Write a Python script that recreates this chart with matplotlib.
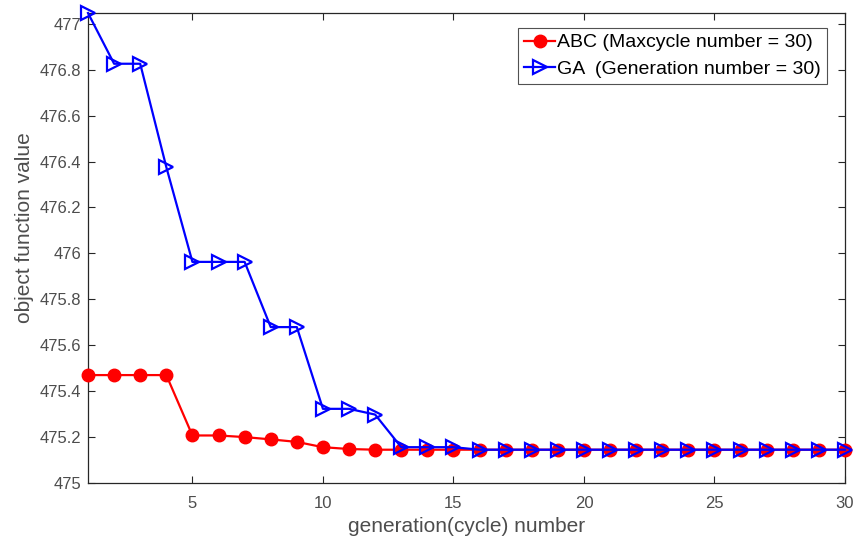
import numpy as np
import matplotlib
matplotlib.use("Agg")
import matplotlib.pyplot as plt

# convergence curves
cycles = np.arange(1, 31)
abc_values = [475.470, 475.470, 475.470, 475.470, 475.207, 475.207, 475.200,
              475.190, 475.179, 475.156, 475.148, 475.145, 475.145, 475.145,
              475.145, 475.145, 475.145, 475.145, 475.145, 475.145, 475.145,
              475.145, 475.145, 475.145, 475.145, 475.145, 475.145, 475.145,
              475.145, 475.145]
ga_values = [477.047, 476.826, 476.826, 476.376, 475.963, 475.963, 475.963,
             475.679, 475.679, 475.323, 475.323, 475.298, 475.156, 475.156,
             475.156, 475.145, 475.145, 475.145, 475.145, 475.145, 475.145,
             475.145, 475.145, 475.145, 475.145, 475.145, 475.145, 475.145,
             475.145, 475.145]

x_ticks = [5, 10, 15, 20, 25, 30]
y_ticks = [475, 475.2, 475.4, 475.6, 475.8, 476, 476.2, 476.4, 476.6, 476.8, 477]
y_tick_labels = ["475", "475.2", "475.4", "475.6", "475.8", "476", "476.2",
                 "476.4", "476.6", "476.8", "477"]

plt.rcParams["font.family"] = ["Liberation Sans", "DejaVu Sans"]

fig = plt.figure(figsize=(8.56, 5.4), dpi=100)
ax = fig.add_axes([88 / 856, 57 / 540, 757 / 856, 470 / 540])

ax.plot(cycles, abc_values, color="#ff0000", lw=1.6, marker="o", ms=9,
        mfc="#ff0000", mec="#ff0000", label="ABC (Maxcycle number = 30)",
        clip_on=False, zorder=3)
ax.plot(cycles, ga_values, color="#0000ff", lw=1.6, marker=">", ms=9.5,
        mfc="none", mec="#0000ff", mew=1.6,
        label="GA  (Generation number = 30)", clip_on=False, zorder=4)

ax.set_xlim(1, 30)
ax.set_ylim(475, ga_values[0])
ax.set_xticks(x_ticks)
ax.set_yticks(y_ticks)
ax.set_yticklabels(y_tick_labels)

ax.tick_params(direction="in", top=True, right=True, length=5, width=0.8,
               colors="#262626", labelcolor="#4d4d4d", labelsize=12)
ax.tick_params(axis="x", pad=9)
ax.tick_params(axis="y", pad=5)
for sp in ax.spines.values():
    sp.set_color("#262626")
    sp.set_linewidth(0.9)

ax.set_xlabel("generation(cycle) number", fontsize=15, color="#4d4d4d", labelpad=5)
ax.set_ylabel("object function value", fontsize=15, color="#4d4d4d")
ax.yaxis.set_label_coords(-0.071, 0.543)

leg = ax.legend(loc="upper right", bbox_to_anchor=(0.976, 0.968),
                borderaxespad=0, fontsize=14, frameon=True, fancybox=False,
                borderpad=0.3, handlelength=1.6, handletextpad=0.1,
                labelspacing=0.45)
leg.get_frame().set_edgecolor("#262626")
leg.get_frame().set_linewidth(0.8)

fig.savefig("out.png", dpi=100, facecolor="white")
